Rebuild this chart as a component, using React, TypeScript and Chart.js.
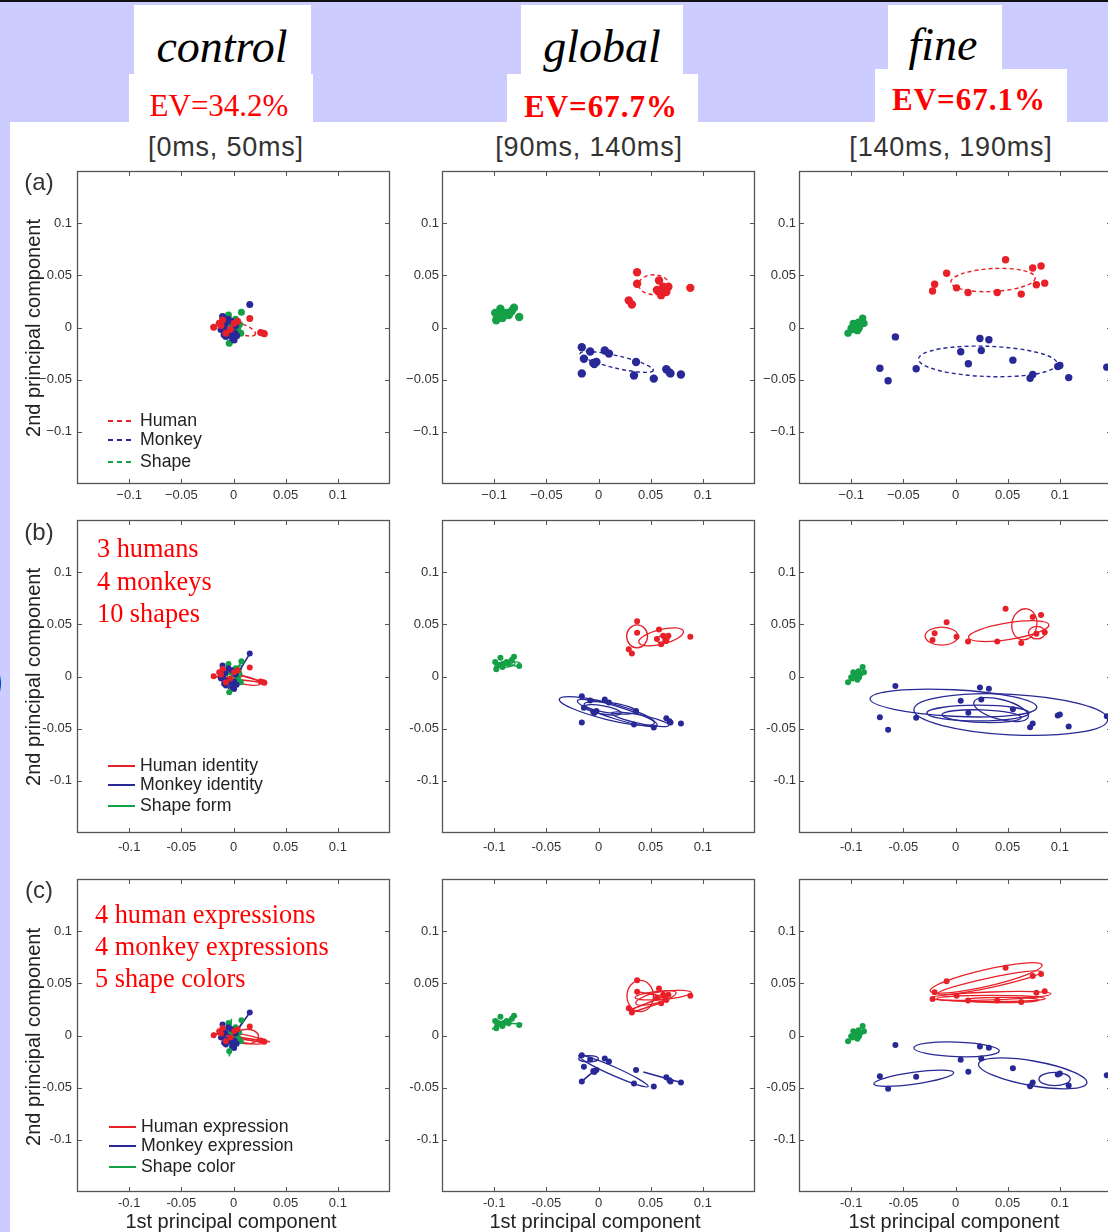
import React, { useEffect, useRef } from "react";
import { Chart, registerables } from "chart.js";

Chart.register(...registerables);

type Pt = [number, number];
type Ell = [number, number, number, number, number]; // cx, cy, rx, ry, angle(deg)
type Seg = [number, number, number, number];

// ---------- tick values / labels ----------
const tickValues = [-0.1, -0.05, 0, 0.05, 0.1];
const columnTitles = ["control", "global", "fine"];
const evLabels = ["EV=34.2%", "EV=67.7%", "EV=67.1%"];
const windowLabels = ["[0ms, 50ms]", "[90ms, 140ms]", "[140ms, 190ms]"];
const rowLabels = ["(a)", "(b)", "(c)"];
const legendA = ["Human", "Monkey", "Shape"];
const legendB = ["Human identity", "Monkey identity", "Shape form"];
const legendC = ["Human expression", "Monkey expression", "Shape color"];
const noteB = ["3 humans", "4 monkeys", "10 shapes"];
const noteC = ["4 human expressions", "4 monkey expressions", "5 shape colors"];

// ---------- points (PC1, PC2) per time window ----------
const controlHuman: Pt[] = [[-0.019, 0.0003], [-0.0137, 0.004], [-0.0105, 0.0073], [0.0156, 0.0086], [0.026, -0.0048], [0.0287, -0.0054], [0.0296, -0.006], [0.0006, 0.004], [-0.0073, -0.0054], [-0.012, 0.002], [0.004, 0.006], [-0.003, -0.002]];
const controlMonkey: Pt[] = [[0.0156, 0.022], [-0.0105, 0.0105], [-0.012, -0.002], [-0.0073, -0.0086], [-0.001, -0.01], [0.0006, -0.012], [-0.004, -0.0054], [-0.008, 0.003], [-0.006, -0.004], [0.002, 0.002], [-0.009, -0.007], [0.001, -0.005], [-0.002, 0.006], [-0.01, 0.0], [0.003, -0.008], [-0.005, 0.008]];
const controlShape: Pt[] = [[-0.0048, 0.012], [0.0076, 0.0147], [-0.0041, -0.015], [0.0054, 0.0026], [0.007, -0.0054], [-0.001, -0.007], [-0.003, 0.004], [0.002, 0.008], [0.004, -0.002], [-0.002, -0.004], [0.0, 0.002], [0.003, 0.005]];

const globalHuman: Pt[] = [[0.037, 0.053], [0.037, 0.042], [0.029, 0.026], [0.032, 0.022], [0.058, 0.045], [0.056, 0.036], [0.062, 0.039], [0.064, 0.035], [0.06, 0.031], [0.067, 0.039], [0.088, 0.038], [0.065, 0.034]];
const globalMonkey: Pt[] = [[-0.016, -0.019], [-0.014, -0.03], [-0.008, -0.023], [-0.005, -0.034], [-0.002, -0.033], [0.006, -0.022], [0.01, -0.025], [0.036, -0.033], [0.034, -0.046], [0.053, -0.049], [0.065, -0.04], [0.069, -0.044], [0.079, -0.045], [-0.016, -0.044], [-0.004, -0.035], [0.068, -0.043]];
const globalShape: Pt[] = [[-0.099, 0.014], [-0.094, 0.018], [-0.098, 0.007], [-0.091, 0.012], [-0.088, 0.014], [-0.081, 0.019], [-0.076, 0.01], [-0.095, 0.011], [-0.092, 0.009], [-0.086, 0.012], [-0.097, 0.01], [-0.083, 0.016]];

const fineHuman: Pt[] = [[-0.0085, 0.052], [-0.02, 0.0415], [-0.022, 0.035], [0.001, 0.038], [0.012, 0.0335], [0.04, 0.0335], [0.048, 0.065], [0.063, 0.032], [0.074, 0.057], [0.082, 0.059], [0.0775, 0.041], [0.0855, 0.0425]];
const fineMonkey: Pt[] = [[-0.0576, -0.009], [-0.0725, -0.039], [-0.0646, -0.051], [-0.0377, -0.0396], [0.005, -0.0233], [0.0123, -0.0348], [0.0234, -0.0105], [0.032, -0.0118], [0.0247, -0.022], [0.055, -0.0313], [0.0715, -0.0486], [0.074, -0.045], [0.098, -0.0374], [0.1, -0.0364], [0.1085, -0.048], [0.145, -0.038]];
const fineShape: Pt[] = [[-0.103, -0.0054], [-0.1, -0.0006], [-0.098, 0.004], [-0.094, -0.003], [-0.091, 0.0026], [-0.089, 0.009], [-0.0877, 0.004], [-0.0956, 0.001], [-0.0924, -0.0006], [-0.0987, -0.002], [-0.096, 0.003], [-0.093, 0.005]];

// ---------- covariance ellipses: [cx, cy, rx, ry, angle] ----------
const ellA_control = {
  human: [[0.006, -0.001, 0.016, 0.005, -20]] as Ell[],
  monkey: [[-0.004, 0.0, 0.007, 0.005, 60]] as Ell[],
  shape: [[0.001, 0.001, 0.008, 0.005, 30]] as Ell[],
};
const ellA_global = {
  human: [[0.053, 0.041, 0.0145, 0.0095, 0]] as Ell[],
  monkey: [[0.0175, -0.033, 0.036, 0.006, -13]] as Ell[],
  shape: [[-0.089, 0.0125, 0.008, 0.003, 10]] as Ell[],
};
const ellA_fine = {
  human: [[0.036, 0.0455, 0.0405, 0.011, 3]] as Ell[],
  monkey: [[0.031, -0.0325, 0.0665, 0.0145, -2]] as Ell[],
  shape: [[-0.095, 0.001, 0.004, 0.003, 45]] as Ell[],
};
const ellB_control = {
  human: [[0.008, -0.003, 0.018, 0.004, -12], [0.0, 0.002, 0.008, 0.006, 0], [-0.008, 0.001, 0.007, 0.005, 20]] as Ell[],
  monkey: [[-0.005, 0.0, 0.004, 0.009, 80], [-0.002, -0.002, 0.006, 0.008, 60]] as Ell[],
  shape: [[0.002, 0.002, 0.01, 0.003, 60], [0.0, 0.0, 0.006, 0.004, 0]] as Ell[],
};
const ellB_global = {
  human: [[0.037, 0.0385, 0.01, 0.011, 0], [0.06, 0.038, 0.022, 0.007, 14], [0.062, 0.036, 0.006, 0.004, 20]] as Ell[],
  monkey: [[0.008, -0.033, 0.047, 0.008, -14], [0.018, -0.035, 0.04, 0.006, -17], [0.011, -0.03, 0.025, 0.005, -8], [0.04, -0.041, 0.028, 0.004, -12], [0.004, -0.032, 0.018, 0.004, -10]] as Ell[],
  shape: [[-0.088, 0.012, 0.008, 0.003, 5], [-0.079, 0.012, 0.004, 0.002, 0]] as Ell[],
};
const ellB_fine = {
  human: [[-0.0133, 0.0387, 0.0158, 0.0086, 0], [0.051, 0.0435, 0.039, 0.008, 9], [0.066, 0.05, 0.012, 0.015, -10], [0.078, 0.042, 0.008, 0.006, 0]] as Ell[],
  monkey: [[-0.002, -0.0254, 0.08, 0.0127, -3], [0.053, -0.0365, 0.093, 0.0194, -3], [0.0215, -0.035, 0.049, 0.0075, 0], [0.0437, -0.0317, 0.027, 0.0095, -15], [0.025, -0.038, 0.038, 0.006, -2]] as Ell[],
  shape: [] as Ell[],
};
const ellC_control = {
  human: [[0.013, -0.001, 0.011, 0.007, 0], [0.01, -0.003, 0.02, 0.004, -10]] as Ell[],
  monkey: [[-0.005, -0.002, 0.003, 0.008, 70]] as Ell[],
  shape: [] as Ell[],
};
const ellC_global = {
  human: [[0.04, 0.0378, 0.0127, 0.015, 0], [0.062, 0.0387, 0.027, 0.004, 5], [0.055, 0.036, 0.02, 0.005, 15]] as Ell[],
  monkey: [[0.0143, -0.0341, 0.0365, 0.004, -24], [-0.0095, -0.0222, 0.0095, 0.003, 0]] as Ell[],
  shape: [] as Ell[],
};
const ellC_fine = {
  human: [[0.0294, 0.0552, 0.055, 0.008, 13], [0.0326, 0.0505, 0.0506, 0.0047, 12], [0.034, 0.0379, 0.0575, 0.0038, 2], [0.034, 0.0355, 0.052, 0.003, 0], [0.045, 0.034, 0.035, 0.0025, 0]] as Ell[],
  monkey: [[0.001, -0.0133, 0.041, 0.007, -2], [-0.04, -0.041, 0.0387, 0.0057, 8], [0.074, -0.0363, 0.0527, 0.0118, -10], [0.095, -0.0417, 0.015, 0.0063, 0]] as Ell[],
  shape: [] as Ell[],
};

// ---------- connecting segments: [x1, y1, x2, y2] ----------
const segB_control = {
  human: [[-0.019, 0.0, 0.03, -0.006], [-0.01, 0.006, 0.028, -0.005]] as Seg[],
  monkey: [[-0.005, -0.012, 0.0156, 0.022]] as Seg[],
  shape: [[-0.004, -0.015, 0.007, 0.014]] as Seg[],
};
const segC_control = {
  human: [[-0.02, 0.002, 0.035, -0.006], [0.0, -0.002, 0.03, -0.007]] as Seg[],
  monkey: [[-0.004, -0.006, 0.0156, 0.022], [-0.01, 0.01, -0.002, -0.01]] as Seg[],
  shape: [[-0.004, -0.02, -0.002, 0.016], [-0.003, -0.005, 0.01, 0.015], [-0.008, 0.0, 0.008, -0.002]] as Seg[],
};
const segC_global = {
  human: [[0.029, 0.024, 0.067, 0.039], [0.032, 0.022, 0.062, 0.032], [0.037, 0.042, 0.065, 0.037]] as Seg[],
  monkey: [[-0.016, -0.044, -0.004, -0.034], [0.043, -0.035, 0.079, -0.045], [0.065, -0.04, 0.069, -0.044]] as Seg[],
  shape: [[-0.102, 0.006, -0.078, 0.019], [-0.098, 0.015, -0.085, 0.009], [-0.092, 0.012, -0.073, 0.011], [-0.094, 0.007, -0.088, 0.014]] as Seg[],
};
const noSeg = { human: [] as Seg[], monkey: [] as Seg[], shape: [] as Seg[] };

const RED = "rgb(232,32,40)";
const BLUE = "rgb(40,40,150)";
const GREEN = "rgb(20,160,70)";
const SANS = "'Liberation Sans', Arial, sans-serif";
const SERIF = "'Liberation Serif', 'Times New Roman', serif";

const colLeft = [77, 442, 799];
const rowTop = [171, 520, 879];
const SIZE = 313;
const YW = 50;
const XH = 24;
const PAD = 8;

type Groups<T> = { human: T[]; monkey: T[]; shape: T[] };

const decoPlugin = {
  id: "deco",
  beforeDatasetsDraw(chart: any) {
    const o = chart.options.plugins.deco;
    const { ctx, chartArea: a } = chart;
    const xs = chart.scales.x, ys = chart.scales.y;
    ctx.save();
    ctx.beginPath();
    ctx.rect(a.left, a.top, a.right - a.left, a.bottom - a.top);
    ctx.clip();
    const groups: [string, Ell[]][] = [[RED, o.ell.human], [BLUE, o.ell.monkey], [GREEN, o.ell.shape]];
    ctx.lineWidth = o.dashed ? 1.4 : 1.3;
    ctx.setLineDash(o.dashed ? [4, 3] : []);
    for (const [color, list] of groups) {
      ctx.strokeStyle = color;
      for (const [cx, cy, rx, ry, ang] of list) {
        const px = xs.getPixelForValue(cx), py = ys.getPixelForValue(cy);
        const rpx = Math.abs(xs.getPixelForValue(cx + rx) - px);
        const rpy = Math.abs(ys.getPixelForValue(cy + ry) - py);
        ctx.beginPath();
        ctx.ellipse(px, py, rpx, rpy, (-ang * Math.PI) / 180, 0, Math.PI * 2);
        ctx.stroke();
      }
    }
    ctx.restore();
  },
  afterDraw(chart: any) {
    const { ctx, chartArea: a } = chart;
    const xs = chart.scales.x, ys = chart.scales.y;
    ctx.save();
    ctx.strokeStyle = "#555";
    ctx.lineWidth = 1.3;
    ctx.strokeRect(a.left + 0.5, a.top + 0.5, a.right - a.left - 1, a.bottom - a.top - 1);
    ctx.lineWidth = 1;
    ctx.beginPath();
    for (const v of tickValues) {
      const px = Math.round(xs.getPixelForValue(v)) + 0.5;
      ctx.moveTo(px, a.bottom); ctx.lineTo(px, a.bottom - 5);
      ctx.moveTo(px, a.top); ctx.lineTo(px, a.top + 5);
      const py = Math.round(ys.getPixelForValue(v)) + 0.5;
      ctx.moveTo(a.left, py); ctx.lineTo(a.left + 5, py);
      ctx.moveTo(a.right, py); ctx.lineTo(a.right - 5, py);
    }
    ctx.stroke();
    ctx.restore();
  },
};

function fmt(v: number, unicodeMinus: boolean) {
  const s = String(Number(v.toFixed(2)));
  return unicodeMinus ? s.replace("-", "\u2212") : s;
}

function Panel(props: {
  row: number; col: number; pts: Groups<Pt>; ell: Groups<Ell>; seg: Groups<Seg>;
  dashed: boolean; radius: number; xPad: number; yPad: number;
}) {
  const ref = useRef<HTMLCanvasElement>(null);
  const { row, col, pts, ell, seg, dashed, radius, xPad, yPad } = props;
  useEffect(() => {
    const colors: [keyof Groups<Pt>, string][] = [["human", RED], ["monkey", BLUE], ["shape", GREEN]];
    const datasets: any[] = [];
    for (const [k, c] of colors) {
      datasets.push({
        data: pts[k].map(([x, y]) => ({ x, y })),
        backgroundColor: c, borderColor: c, pointRadius: radius, pointBorderWidth: 0, showLine: false,
      });
    }
    for (const [k, c] of colors) {
      for (const s of seg[k]) {
        datasets.push({
          data: [{ x: s[0], y: s[1] }, { x: s[2], y: s[3] }],
          borderColor: c, backgroundColor: c, borderWidth: 1.6, pointRadius: 0, showLine: true,
        });
      }
    }
    const um = row === 0;
    const tickFont = { family: SANS, size: 13 };
    const chart = new Chart(ref.current as HTMLCanvasElement, {
      type: "scatter",
      data: { datasets },
      options: {
        animation: false,
        responsive: false,
        devicePixelRatio: 1,
        layout: { padding: { top: PAD, right: PAD, left: 0, bottom: 0 } },
        plugins: { legend: { display: false }, tooltip: { enabled: false }, deco: { ell, dashed } } as any,
        scales: {
          x: {
            type: "linear", min: -0.15, max: 0.15,
            grid: { display: false, drawTicks: false }, border: { display: false },
            afterBuildTicks: (s: any) => { s.ticks = tickValues.map((v) => ({ value: v })); },
            afterFit: (s: any) => { s.height = XH; s.paddingLeft = 0; s.paddingRight = 0; s.paddingTop = 0; s.paddingBottom = 0; },
            ticks: { padding: xPad, font: tickFont, color: "#333", maxRotation: 0, autoSkip: false, callback: (v: any) => fmt(Number(v), um) },
          },
          y: {
            type: "linear", min: -0.15, max: 0.15,
            grid: { display: false, drawTicks: false }, border: { display: false },
            afterBuildTicks: (s: any) => { s.ticks = tickValues.map((v) => ({ value: v })); },
            afterFit: (s: any) => { s.width = YW; s.paddingTop = 0; s.paddingBottom = 0; s.paddingLeft = 0; s.paddingRight = 0; },
            ticks: { padding: yPad, font: tickFont, color: "#333", autoSkip: false, callback: (v: any) => fmt(Number(v), um) },
          },
        },
      } as any,
      plugins: [decoPlugin],
    });
    return () => chart.destroy();
  }, []);
  const w = YW + SIZE + PAD, h = PAD + SIZE + XH;
  return (
    <canvas ref={ref} width={w} height={h}
      style={{ position: "absolute", left: colLeft[col] - YW, top: rowTop[row] - PAD, width: w, height: h }} />
  );
}

function T(props: { x: number; y: number; children: any; style?: any; align?: "center" | "left" }) {
  const tr = props.align === "left" ? "translate(0,-50%)" : "translate(-50%,-50%)";
  return (
    <div style={{ position: "absolute", left: props.x, top: props.y, transform: tr, whiteSpace: "nowrap", lineHeight: 1, ...props.style }}>
      {props.children}
    </div>
  );
}

function Box(props: { l: number; t: number; r: number; b: number; bg?: string }) {
  return <div style={{ position: "absolute", left: props.l, top: props.t, width: props.r - props.l, height: props.b - props.t, background: props.bg || "#fff" }} />;
}

function Legend(props: { x: number; ys: number[]; labels: string[]; dashed: boolean }) {
  const cols = [RED, BLUE, GREEN];
  return (
    <>
      {props.labels.map((lab, i) => (
        <React.Fragment key={i}>
          <div style={{
            position: "absolute", left: props.x, top: props.ys[i] - 1, width: 27, height: 2,
            background: props.dashed ? `repeating-linear-gradient(to right, ${cols[i]} 0 5px, transparent 5px 9px)` : cols[i],
          }} />
          <T x={props.x + 32} y={props.ys[i]} align="left" style={{ fontFamily: SANS, fontSize: 17.7, color: "#222" }}>{lab}</T>
        </React.Fragment>
      ))}
    </>
  );
}

export default function App() {
  const colPts: Groups<Pt>[] = [
    { human: controlHuman, monkey: controlMonkey, shape: controlShape },
    { human: globalHuman, monkey: globalMonkey, shape: globalShape },
    { human: fineHuman, monkey: fineMonkey, shape: fineShape },
  ];
  const ells = [[ellA_control, ellA_global, ellA_fine], [ellB_control, ellB_global, ellB_fine], [ellC_control, ellC_global, ellC_fine]];
  const segs = [[noSeg, noSeg, noSeg], [segB_control, noSeg, noSeg], [segC_control, segC_global, noSeg]];
  const radii = [[3.5, 4.2, 3.7], [3, 3, 3], [3, 3, 3]];
  const xPads = [4, 7, 4];
  const yPads = [5, 3, 3];
  const centers = [231, 595, 954];
  return (
    <div style={{ position: "fixed", left: 0, top: 0, width: 1108, height: 1232, overflow: "hidden", background: "#ccccff" }}>
      <Box l={0} t={0} r={1108} b={2} bg="#111" />
      <Box l={10} t={122} r={1108} b={1232} />
      <Box l={134} t={5} r={311} b={75} />
      <Box l={129} t={74} r={313} b={122} />
      <Box l={521} t={5} r={683} b={75} />
      <Box l={507} t={74} r={698} b={122} />
      <Box l={888} t={5} r={1002} b={70} />
      <Box l={875} t={69} r={1067} b={122} />

      <T x={222} y={47} style={{ fontFamily: SERIF, fontStyle: "italic", fontSize: 46, color: "#000" }}>{columnTitles[0]}</T>
      <T x={602} y={47} style={{ fontFamily: SERIF, fontStyle: "italic", fontSize: 46, color: "#000" }}>{columnTitles[1]}</T>
      <T x={943} y={45} style={{ fontFamily: SERIF, fontStyle: "italic", fontSize: 46, color: "#000" }}>{columnTitles[2]}</T>
      <T x={219} y={105} style={{ fontFamily: SERIF, fontSize: 31, color: "#f00" }}>{evLabels[0]}</T>
      <T x={601} y={106} style={{ fontFamily: SERIF, fontSize: 31, fontWeight: "bold", letterSpacing: 1, color: "#f00" }}>{evLabels[1]}</T>
      <T x={969} y={99} style={{ fontFamily: SERIF, fontSize: 31, fontWeight: "bold", letterSpacing: 1, color: "#f00" }}>{evLabels[2]}</T>
      {windowLabels.map((s, i) => (
        <T key={s} x={[226, 589, 951][i]} y={147} style={{ fontFamily: SANS, fontSize: 27, letterSpacing: 0.8, color: "#333" }}>{s}</T>
      ))}

      <T x={-4} y={680} style={{ fontFamily: SANS, fontSize: 44, color: "#000" }}>)</T>

      {[0, 1, 2].map((r) =>
        [0, 1, 2].map((c) => (
          <Panel key={`${r}-${c}`} row={r} col={c} pts={colPts[c]} ell={ells[r][c] as any} seg={segs[r][c] as any}
            dashed={r === 0} radius={radii[r][c]} xPad={xPads[r]} yPad={c === 0 ? yPads[0] : yPads[1]} />
        ))
      )}

      {rowLabels.map((s, i) => (
        <T key={s} x={39} y={[182, 532, 890][i]} style={{ fontFamily: SANS, fontSize: 24, color: "#333" }}>{s}</T>
      ))}
      {[328, 677, 1037].map((y, i) => (
        <T key={i} x={33} y={y} style={{ fontFamily: SANS, fontSize: 20, color: "#222", transform: "translate(-50%,-50%) rotate(-90deg)" }}>
          2nd principal component
        </T>
      ))}
      {centers.map((x, i) => (
        <T key={i} x={x} y={1221} style={{ fontFamily: SANS, fontSize: 20, color: "#222" }}>1st principal component</T>
      ))}

      {noteB.map((s, i) => (
        <T key={s} x={97} y={[549, 582, 614][i]} align="left" style={{ fontFamily: SERIF, fontSize: 26.3, color: "#f00" }}>{s}</T>
      ))}
      {noteC.map((s, i) => (
        <T key={s} x={95} y={[915, 947, 979][i]} align="left" style={{ fontFamily: SERIF, fontSize: 26.3, color: "#f00" }}>{s}</T>
      ))}

      <Legend x={108} ys={[421, 440, 462]} labels={legendA} dashed={true} />
      <Legend x={108} ys={[766, 785, 806]} labels={legendB} dashed={false} />
      <Legend x={109} ys={[1127, 1146, 1167]} labels={legendC} dashed={false} />
    </div>
  );
}
